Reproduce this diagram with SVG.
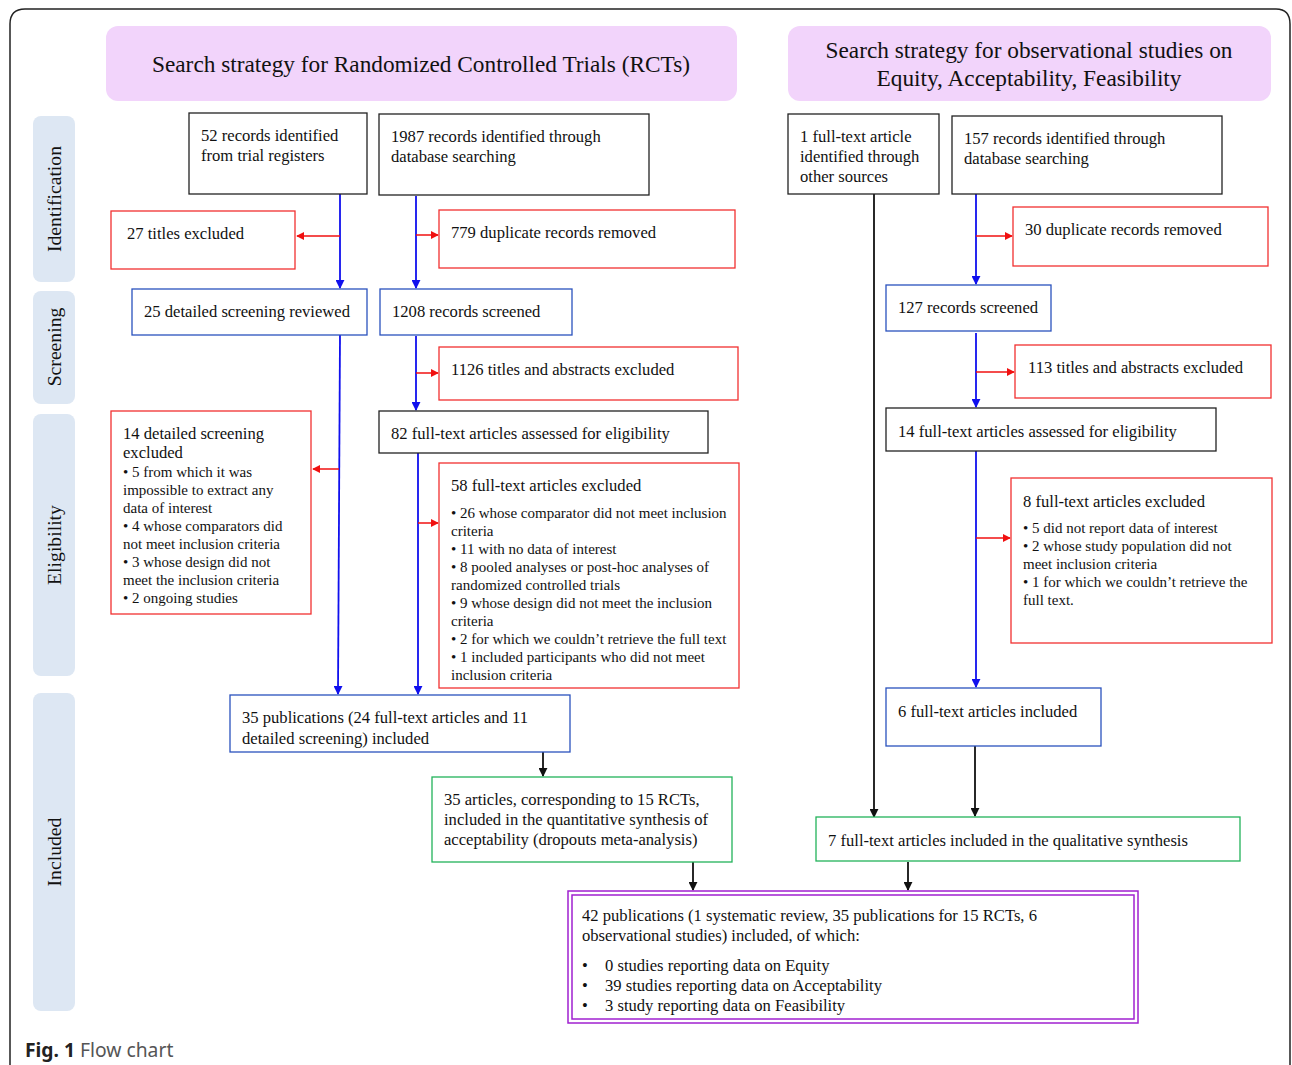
<svg xmlns="http://www.w3.org/2000/svg" width="1292" height="1065" viewBox="0 0 1292 1065">
<defs>
<style>
text{font-family:"Liberation Serif","Times New Roman",serif;fill:#111}
.t{font-size:16.6px}
.s{font-size:15px}
.h{font-size:23.3px}
.side{font-size:19.7px}
.bk{fill:#fff;stroke:#222;stroke-width:1.3}
.rd{fill:#fff;stroke:#f23030;stroke-width:1.3}
.bl{fill:#fff;stroke:#2a52be;stroke-width:1.3}
.gr{fill:#fff;stroke:#22b35a;stroke-width:1.3}
.hd{fill:#f2d4fb}
.sd{fill:#dde7f3}
.cb{stroke:#1010ee;stroke-width:1.8;fill:none}
.cr{stroke:#f01010;stroke-width:1.5;fill:none}
.ck{stroke:#111;stroke-width:1.8;fill:none}
</style>
<marker id="ab" viewBox="0 0 10 10" refX="9" refY="5" markerWidth="5" markerHeight="5" orient="auto"><path d="M0,0L10,5L0,10z" fill="#1010ee"/></marker>
<marker id="ar" viewBox="0 0 10 10" refX="9" refY="5" markerWidth="5.5" markerHeight="5.5" orient="auto"><path d="M0,0L10,5L0,10z" fill="#f01010"/></marker>
<marker id="ak" viewBox="0 0 10 10" refX="9" refY="5" markerWidth="5" markerHeight="5" orient="auto"><path d="M0,0L10,5L0,10z" fill="#111"/></marker>
</defs>
<rect width="1292" height="1065" fill="#fff"/>
<path d="M10,1090 V24 Q10,9 25,9 H1276 Q1290,9 1290,24 V1090" fill="none" stroke="#222" stroke-width="1.5"/>

<g id="headers">
<rect class="hd" x="106" y="26" width="631" height="75" rx="12"/>
<text class="h" x="421" y="72" text-anchor="middle">Search strategy for Randomized Controlled Trials (RCTs)</text>
<rect class="hd" x="788" y="26" width="483" height="75" rx="12"/>
<text class="h" x="1029" y="58" text-anchor="middle">Search strategy for observational studies on</text>
<text class="h" x="1029" y="86" text-anchor="middle">Equity, Acceptability, Feasibility</text>
</g>

<g id="phases">
<rect class="sd" x="33" y="116" width="42" height="166" rx="8"/>
<text class="side" transform="translate(61,199) rotate(-90)" text-anchor="middle">Identification</text>
<rect class="sd" x="33" y="291" width="42" height="113" rx="8"/>
<text class="side" transform="translate(61,347) rotate(-90)" text-anchor="middle">Screening</text>
<rect class="sd" x="33" y="414" width="42" height="262" rx="8"/>
<text class="side" transform="translate(61,545) rotate(-90)" text-anchor="middle">Eligibility</text>
<rect class="sd" x="33" y="693" width="42" height="318" rx="8"/>
<text class="side" transform="translate(61,852) rotate(-90)" text-anchor="middle">Included</text>
</g>

<g id="connectors">
<line class="cb" x1="340" y1="194" x2="340" y2="288" marker-end="url(#ab)"/>
<line class="cr" x1="340" y1="236" x2="297" y2="236" marker-end="url(#ar)"/>
<line class="cb" x1="416" y1="196" x2="416" y2="288" marker-end="url(#ab)"/>
<line class="cr" x1="416" y1="235" x2="438" y2="235" marker-end="url(#ar)"/>
<line class="cb" x1="340" y1="335" x2="338" y2="694" marker-end="url(#ab)"/>
<line class="cr" x1="339" y1="469" x2="313" y2="469" marker-end="url(#ar)"/>
<line class="cb" x1="416" y1="336" x2="416" y2="410" marker-end="url(#ab)"/>
<line class="cr" x1="416" y1="373" x2="438" y2="373" marker-end="url(#ar)"/>
<line class="cb" x1="418" y1="453" x2="418" y2="694" marker-end="url(#ab)"/>
<line class="cr" x1="418" y1="523" x2="438" y2="523" marker-end="url(#ar)"/>
<line class="ck" x1="543" y1="752" x2="543" y2="776" marker-end="url(#ak)"/>
<line class="ck" x1="874" y1="194" x2="874" y2="817" marker-end="url(#ak)"/>
<line class="cb" x1="976" y1="194" x2="976" y2="284" marker-end="url(#ab)"/>
<line class="cr" x1="976" y1="236" x2="1012" y2="236" marker-end="url(#ar)"/>
<line class="cb" x1="976" y1="333" x2="976" y2="407" marker-end="url(#ab)"/>
<line class="cr" x1="976" y1="372" x2="1014" y2="372" marker-end="url(#ar)"/>
<line class="cb" x1="976" y1="451" x2="976" y2="687" marker-end="url(#ab)"/>
<line class="cr" x1="976" y1="538" x2="1010" y2="538" marker-end="url(#ar)"/>
<line class="ck" x1="975" y1="746" x2="975" y2="816" marker-end="url(#ak)"/>
<line class="ck" x1="693" y1="862" x2="693" y2="890" marker-end="url(#ak)"/>
<line class="ck" x1="908" y1="862" x2="908" y2="890" marker-end="url(#ak)"/>
</g>

<g id="n52">
<rect class="bk" x="189" y="113" width="178" height="81"/>
<text class="t" x="201" y="141">52 records identified</text>
<text class="t" x="201" y="161">from trial registers</text>
</g>
<g id="n1987">
<rect class="bk" x="379" y="114" width="270" height="81"/>
<text class="t" x="391" y="142">1987 records identified through</text>
<text class="t" x="391" y="162">database searching</text>
</g>
<g id="n27">
<rect class="rd" x="111" y="211" width="184" height="58"/>
<text class="t" x="127" y="239">27 titles excluded</text>
</g>
<g id="n779">
<rect class="rd" x="439" y="210" width="296" height="58"/>
<text class="t" x="451" y="238">779 duplicate records removed</text>
</g>
<g id="n25">
<rect class="bl" x="132" y="289" width="235" height="46"/>
<text class="t" x="144" y="317">25 detailed screening reviewed</text>
</g>
<g id="n1208">
<rect class="bl" x="380" y="289" width="192" height="46"/>
<text class="t" x="392" y="317">1208 records screened</text>
</g>
<g id="n1126">
<rect class="rd" x="439" y="347" width="299" height="53"/>
<text class="t" x="451" y="375">1126 titles and abstracts excluded</text>
</g>
<g id="n82">
<rect class="bk" x="379" y="411" width="329" height="42"/>
<text class="t" x="391" y="439">82 full-text articles assessed for eligibility</text>
</g>
<g id="n14d">
<rect class="rd" x="111" y="411" width="200" height="203"/>
<text class="t" x="123" y="439">14 detailed screening</text>
<text class="t" x="123" y="458">excluded</text>
<text class="s" x="123" y="477">• 5 from which it was</text>
<text class="s" x="123" y="495">impossible to extract any</text>
<text class="s" x="123" y="513">data of interest</text>
<text class="s" x="123" y="531">• 4 whose comparators did</text>
<text class="s" x="123" y="549">not meet inclusion criteria</text>
<text class="s" x="123" y="567">• 3 whose design did not</text>
<text class="s" x="123" y="585">meet the inclusion criteria</text>
<text class="s" x="123" y="603">• 2 ongoing studies</text>
</g>
<g id="n58">
<rect class="rd" x="439" y="463" width="300" height="225"/>
<text class="t" x="451" y="491">58 full-text articles excluded</text>
<text class="s" x="451" y="518">• 26 whose comparator did not meet inclusion</text>
<text class="s" x="451" y="536">criteria</text>
<text class="s" x="451" y="554">• 11 with no data of interest</text>
<text class="s" x="451" y="572">• 8 pooled analyses or post-hoc analyses of</text>
<text class="s" x="451" y="590">randomized controlled trials</text>
<text class="s" x="451" y="608">• 9 whose design did not meet the inclusion</text>
<text class="s" x="451" y="626">criteria</text>
<text class="s" x="451" y="644">• 2 for which we couldn’t retrieve the full text</text>
<text class="s" x="451" y="662">• 1 included participants who did not meet</text>
<text class="s" x="451" y="680">inclusion criteria</text>
</g>
<g id="n35pub">
<rect class="bl" x="230" y="695" width="340" height="57"/>
<text class="t" x="242" y="723">35 publications (24 full-text articles and 11</text>
<text class="t" x="242" y="744">detailed screening) included</text>
</g>
<g id="n35art">
<rect class="gr" x="432" y="777" width="300" height="85"/>
<text class="t" x="444" y="805">35 articles, corresponding to 15 RCTs,</text>
<text class="t" x="444" y="825">included in the quantitative synthesis of</text>
<text class="t" x="444" y="845">acceptability (dropouts meta-analysis)</text>
</g>
<g id="n1ft">
<rect class="bk" x="788" y="114" width="151" height="80"/>
<text class="t" x="800" y="142">1 full-text article</text>
<text class="t" x="800" y="162">identified through</text>
<text class="t" x="800" y="182">other sources</text>
</g>
<g id="n157">
<rect class="bk" x="952" y="116" width="270" height="78"/>
<text class="t" x="964" y="144">157 records identified through</text>
<text class="t" x="964" y="164">database searching</text>
</g>
<g id="n30">
<rect class="rd" x="1013" y="207" width="255" height="59"/>
<text class="t" x="1025" y="235">30 duplicate records removed</text>
</g>
<g id="n127">
<rect class="bl" x="886" y="285" width="165" height="46"/>
<text class="t" x="898" y="313">127 records screened</text>
</g>
<g id="n113">
<rect class="rd" x="1015" y="345" width="256" height="53"/>
<text class="t" x="1028" y="373">113 titles and abstracts excluded</text>
</g>
<g id="n14ft">
<rect class="bk" x="886" y="408" width="330" height="43"/>
<text class="t" x="898" y="437">14 full-text articles assessed for eligibility</text>
</g>
<g id="n8">
<rect class="rd" x="1011" y="478" width="261" height="165"/>
<text class="t" x="1023" y="507">8 full-text articles excluded</text>
<text class="s" x="1023" y="533">• 5 did not report data of interest</text>
<text class="s" x="1023" y="551">• 2 whose study population did not</text>
<text class="s" x="1023" y="569">meet inclusion criteria</text>
<text class="s" x="1023" y="587">• 1 for which we couldn’t retrieve the</text>
<text class="s" x="1023" y="605">full text.</text>
</g>
<g id="n6">
<rect class="bl" x="886" y="688" width="215" height="58"/>
<text class="t" x="898" y="717">6 full-text articles included</text>
</g>
<g id="n7">
<rect class="gr" x="816" y="817" width="424" height="44"/>
<text class="t" x="828" y="846">7 full-text articles included in the qualitative synthesis</text>
</g>
<g id="n42">
<rect x="568" y="891" width="570" height="132" fill="#fff" stroke="#a020d0" stroke-width="1.5"/>
<rect x="572" y="895" width="562" height="124" fill="none" stroke="#a020d0" stroke-width="1.5"/>
<text class="t" x="582" y="921">42 publications (1 systematic review, 35 publications for 15 RCTs, 6</text>
<text class="t" x="582" y="941">observational studies) included, of which:</text>
<text class="t" x="582" y="971">•</text><text class="t" x="605" y="971">0 studies reporting data on Equity</text>
<text class="t" x="582" y="991">•</text><text class="t" x="605" y="991">39 studies reporting data on Acceptability</text>
<text class="t" x="582" y="1011">•</text><text class="t" x="605" y="1011">3 study reporting data on Feasibility</text>
</g>

<text x="25" y="1057" style="font-family:'Noto Sans','Open Sans',sans-serif;font-size:19.3px;fill:#222"><tspan font-weight="bold">Fig. 1</tspan><tspan fill="#555"> Flow chart</tspan></text>
</svg>
